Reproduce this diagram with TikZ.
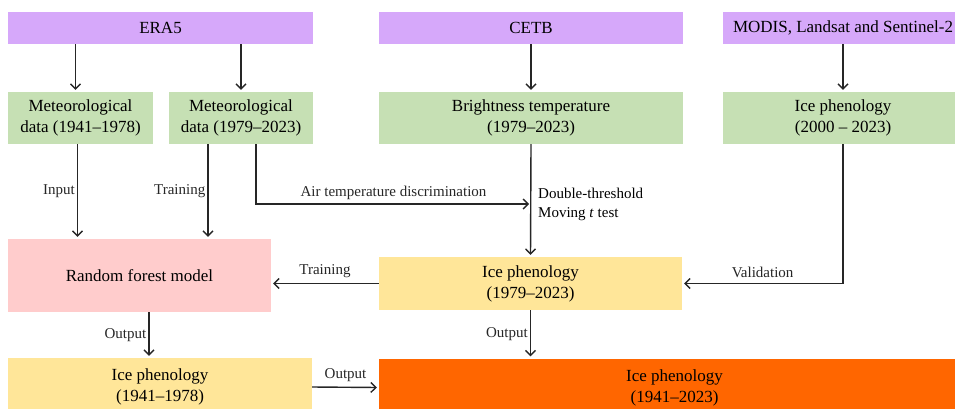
\documentclass[tikz,border=0pt]{standalone}
\usepackage{fontspec}
\setmainfont{Liberation Serif}
\usepackage{tikz}
\usetikzlibrary{positioning,arrows.meta,calc}

\definecolor{srcpurple}{RGB}{214,168,250}
\definecolor{datagreen}{RGB}{198,224,180}
\definecolor{modelpink}{RGB}{255,204,204}
\definecolor{resyellow}{RGB}{255,230,153}
\definecolor{finalorange}{RGB}{255,102,0}

\tikzset{
  box/.style={inner sep=0pt,align=center,font=\fontsize{17}{21}\selectfont},
  srcbox/.style={box,fill=srcpurple,minimum height=32},
  databox/.style={box,fill=datagreen,minimum height=52},
  arr/.style={-{Straight Barb[length=5pt,width=10pt]},line width=1.4pt,black!85,shorten >=2pt},
  lbl/.style={font=\fontsize{15}{19}\selectfont,inner sep=1pt}
}

\begin{document}
\begin{tikzpicture}[x=1pt,y=-1pt]
  \useasboundingbox (0,0) rectangle (955,408);
  % sources
  \node[srcbox,minimum width=305] (era) at (160.5,28){ERA5};
  \node[srcbox,minimum width=304] (cetb) at (531,28){CETB};
  \node[srcbox,minimum width=240] (modis) at (843,28){MODIS, Landsat and Sentinel-2};
  % data
  \node[databox,minimum width=145] (met1) at (80.5,118){Meteorological\\data (1941--1978)};
  \node[databox,minimum width=144] (met2) at (241,118){Meteorological\\data (1979--2023)};
  \node[databox,minimum width=304] (bt) at (531,118){Brightness temperature\\(1979--2023)};
  \node[databox,minimum width=240] (ipv) at (843,118){Ice phenology\\(2000 -- 2023)};
  % models and results
  \node[box,fill=modelpink,minimum width=263,minimum height=73] (rf) at (139.5,275.5){Random forest model};
  \node[box,fill=resyellow,minimum width=303,minimum height=53] (ip79) at (530.5,283.5){Ice phenology\\(1979--2023)};
  \node[box,fill=resyellow,minimum width=304,minimum height=58] (ip41) at (160,387){Ice phenology\\(1941--1978)};
  \node[box,fill=finalorange,minimum width=591,minimum height=58] (ipall) at (674.5,387.5){Ice phenology\\(1941--2023)};

  \path ([xshift=-5]met1.north) coordinate (m1in)
        ([xshift=-3]met1.south) coordinate (m1out)
        ([xshift=-33]met2.south) coordinate (m2tr)
        ([xshift=15]met2.south) coordinate (m2air)
        ([xshift=9.5]rf.south) coordinate (rfout);
  \coordinate (dt) at (531,204);

  % arrows
  \draw[arr] (era.south -| m1in) -- (m1in);
  \draw[arr] (era.south -| met2.north) -- (met2.north);
  \draw[arr] (cetb.south) -- (bt.north);
  \draw[arr] (modis.south) -- (modis.south |- ipv.north);
  \draw[arr] (m1out) -- node[lbl,left=1pt]{Input} (m1out |- rf.north);
  \draw[arr] (m2tr) -- node[lbl,left=1pt]{Training} (m2tr |- rf.north);
  \draw[arr] (m2air) |- node[lbl,above=3pt,pos=0.75]{Air temperature discrimination} (dt);
  \draw[arr] (bt.south) -- (ip79.north);
  \node[lbl,anchor=west,align=left] (dtlbl) at ([xshift=6]dt){Double-threshold\\Moving \textit{t} test};
  \draw[arr] (ipv.south) |- node[lbl,above=4pt,pos=0.75]{Validation} (ip79.east);
  \draw[arr] (ip79.west) -- node[lbl,above=4pt]{Training} (ip79.west -| rf.east);
  \draw[arr] (rfout) -- node[lbl,left=1pt]{Output} (rfout |- ip41.north);
  \draw[arr] (ip79.south) -- node[lbl,left=1pt]{Output} (ip79.south |- ipall.north);
  \draw[arr] (ip41.east) -- node[lbl,above=4pt]{Output} (ipall.west);
\end{tikzpicture}
\end{document}
